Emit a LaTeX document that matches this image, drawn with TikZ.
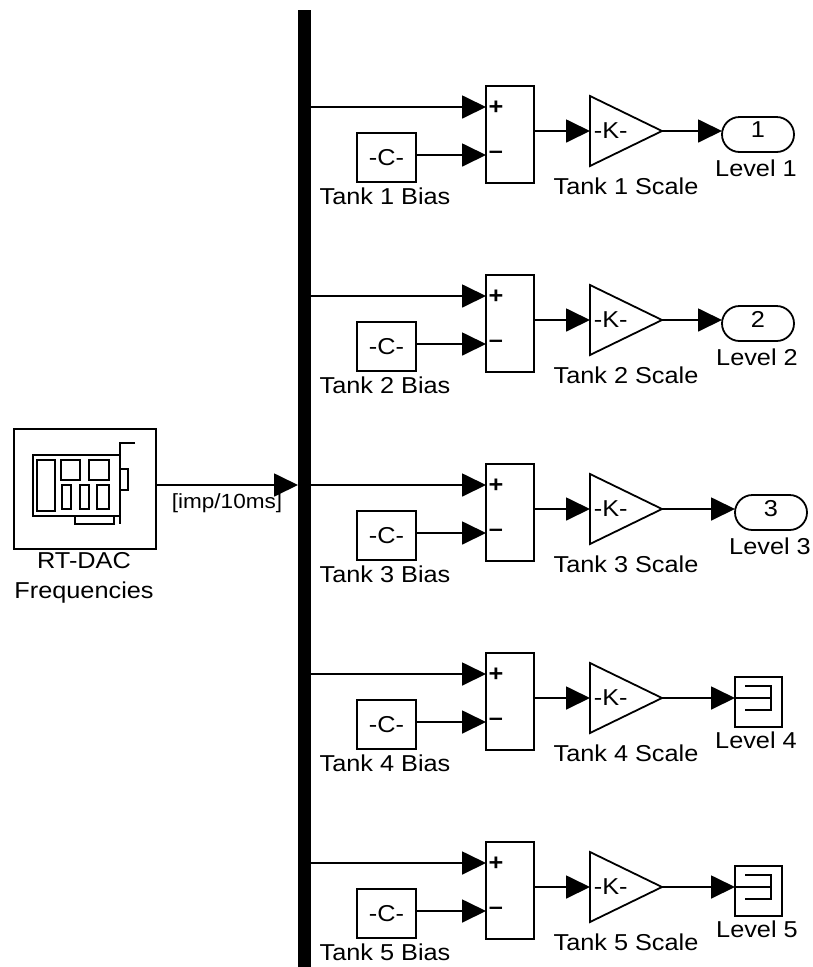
\documentclass[tikz,border=0pt]{standalone}
\usepackage{fontspec}
\setmainfont[FakeStretch=1.1]{Liberation Sans}
\usetikzlibrary{arrows.meta,shapes.geometric,shapes.misc}

\begin{document}
\begin{tikzpicture}[x=1pt,y=-1pt,line width=1.8pt,
every node/.style = {outer sep=0pt, inner sep=0pt, font=\fontsize{23}{27}\selectfont},
sig/.style = {-{Triangle[length=24pt,width=23pt]}},
blockbox/.style = {draw, shape=rectangle},
signbox/.style = {font=\bfseries\fontsize{23}{23}\selectfont},
gainbox/.style = {draw, shape=isosceles triangle, isosceles triangle stretches, minimum width=70pt, minimum height=72pt, anchor=apex},
portbox/.style = {draw, shape=rounded rectangle, minimum width=72pt, minimum height=35pt}]
\useasboundingbox (0,0) rectangle (813,967);
\node(bar) [fill=black, minimum width=13pt, minimum height=957pt] at (304.5,488.5) {};
% card block
\node(card) [blockbox, minimum width=142pt, minimum height=120pt] at (85,489) {};
\node(cardname) [align=center] at (84,578) {RT-DAC\\[3pt]Frequencies};
\draw (120,455) -- (33,455) -- (33,516) -- (120,516);
\draw (135,443) -- (120,443) -- (120,524);
\draw (120,469) rectangle (128,490);
\draw (75,516) rectangle (114,524);
\draw (37,460) rectangle (55,511);
\draw (61,460) rectangle (80,480);
\draw (89,460) rectangle (109,480);
\draw (62,485) rectangle (71,509);
\draw (80,485) rectangle (89,509);
\draw (97,485) rectangle (109,509);
\node(rate) [font=\fontsize{20.5}{24}\selectfont] at (227,503) {[imp/10ms]};
\draw[sig] (card.east |- 0,485) -- (bar.west |- 0,485);

% tank 1
\node(sum1) [blockbox, minimum width=48pt, minimum height=97pt] at (510,134.5) {};
\node(plus1) [signbox] at (496,108) {+};
\node(minus1) [signbox] at (496,155) {--};
\node(bias1) [blockbox, minimum width=59pt, minimum height=49pt] at (386.5,157.5) {-C-};
\node(biasname1) at (385,196) {Tank 1 Bias};
\node(gain1) [gainbox] at (662,131) {\hspace*{-4pt}-K-\hspace{22pt}};
\node(gainname1) at (626,186) {Tank 1 Scale};
\node(port1) [portbox] at (758,134.5) {\raisebox{9pt}{1}};
\node(portname1) at (756,168) {Level 1};
\draw[sig] (bar.east |- 0,107) -- (sum1.west |- 0,107);
\draw[sig] (bias1.east |- 0,155) -- (sum1.west |- 0,155);
\draw[sig] (sum1.east |- gain1.apex) -- (gain1.lower side |- gain1.apex);
\draw[sig] (gain1.apex) -- (port1.west |- gain1.apex);

% tank 2
\node(sum2) [blockbox, minimum width=48pt, minimum height=97pt] at (510,323.5) {};
\node(plus2) [signbox] at (496,297) {+};
\node(minus2) [signbox] at (496,344) {--};
\node(bias2) [blockbox, minimum width=59pt, minimum height=49pt] at (386.5,346.5) {-C-};
\node(biasname2) at (385,385) {Tank 2 Bias};
\node(gain2) [gainbox] at (662,320) {\hspace*{-4pt}-K-\hspace{22pt}};
\node(gainname2) at (626,375) {Tank 2 Scale};
\node(port2) [portbox] at (758,323.5) {\raisebox{9pt}{2}};
\node(portname2) at (757,357) {Level 2};
\draw[sig] (bar.east |- 0,296) -- (sum2.west |- 0,296);
\draw[sig] (bias2.east |- 0,344) -- (sum2.west |- 0,344);
\draw[sig] (sum2.east |- gain2.apex) -- (gain2.lower side |- gain2.apex);
\draw[sig] (gain2.apex) -- (port2.west |- gain2.apex);

% tank 3
\node(sum3) [blockbox, minimum width=48pt, minimum height=97pt] at (510,512.5) {};
\node(plus3) [signbox] at (496,486) {+};
\node(minus3) [signbox] at (496,533) {--};
\node(bias3) [blockbox, minimum width=59pt, minimum height=49pt] at (386.5,535.5) {-C-};
\node(biasname3) at (385,574) {Tank 3 Bias};
\node(gain3) [gainbox] at (662,509) {\hspace*{-4pt}-K-\hspace{22pt}};
\node(gainname3) at (626,564) {Tank 3 Scale};
\node(port3) [portbox] at (771,512.5) {\raisebox{9pt}{3}};
\node(portname3) at (770,546) {Level 3};
\draw[sig] (bar.east |- 0,485) -- (sum3.west |- 0,485);
\draw[sig] (bias3.east |- 0,533) -- (sum3.west |- 0,533);
\draw[sig] (sum3.east |- gain3.apex) -- (gain3.lower side |- gain3.apex);
\draw[sig] (gain3.apex) -- (port3.west |- gain3.apex);

% tank 4
\node(sum4) [blockbox, minimum width=48pt, minimum height=97pt] at (510,701.5) {};
\node(plus4) [signbox] at (496,675) {+};
\node(minus4) [signbox] at (496,722) {--};
\node(bias4) [blockbox, minimum width=59pt, minimum height=49pt] at (386.5,724.5) {-C-};
\node(biasname4) at (385,763) {Tank 4 Bias};
\node(gain4) [gainbox] at (662,698) {\hspace*{-4pt}-K-\hspace{22pt}};
\node(gainname4) at (626,753) {Tank 4 Scale};
\node(scope4) [blockbox, minimum width=47pt, minimum height=50pt] at (758.5,702) {};
\node(scopename4) at (756,740) {Level 4};
\draw (745,686) -- (771,686) -- (771,710) -- (745,710);
\draw (735,698) -- (771,698);
\draw[sig] (bar.east |- 0,674) -- (sum4.west |- 0,674);
\draw[sig] (bias4.east |- 0,722) -- (sum4.west |- 0,722);
\draw[sig] (sum4.east |- gain4.apex) -- (gain4.lower side |- gain4.apex);
\draw[sig] (gain4.apex) -- (scope4.west |- gain4.apex);

% tank 5
\node(sum5) [blockbox, minimum width=48pt, minimum height=97pt] at (510,890.5) {};
\node(plus5) [signbox] at (496,864) {+};
\node(minus5) [signbox] at (496,911) {--};
\node(bias5) [blockbox, minimum width=59pt, minimum height=49pt] at (386.5,913.5) {-C-};
\node(biasname5) at (385,952) {Tank 5 Bias};
\node(gain5) [gainbox] at (662,887) {\hspace*{-4pt}-K-\hspace{22pt}};
\node(gainname5) at (626,942) {Tank 5 Scale};
\node(scope5) [blockbox, minimum width=47pt, minimum height=50pt] at (758.5,891) {};
\node(scopename5) at (757,929) {Level 5};
\draw (745,875) -- (771,875) -- (771,899) -- (745,899);
\draw (735,887) -- (771,887);
\draw[sig] (bar.east |- 0,863) -- (sum5.west |- 0,863);
\draw[sig] (bias5.east |- 0,911) -- (sum5.west |- 0,911);
\draw[sig] (sum5.east |- gain5.apex) -- (gain5.lower side |- gain5.apex);
\draw[sig] (gain5.apex) -- (scope5.west |- gain5.apex);
\end{tikzpicture}
\end{document}
